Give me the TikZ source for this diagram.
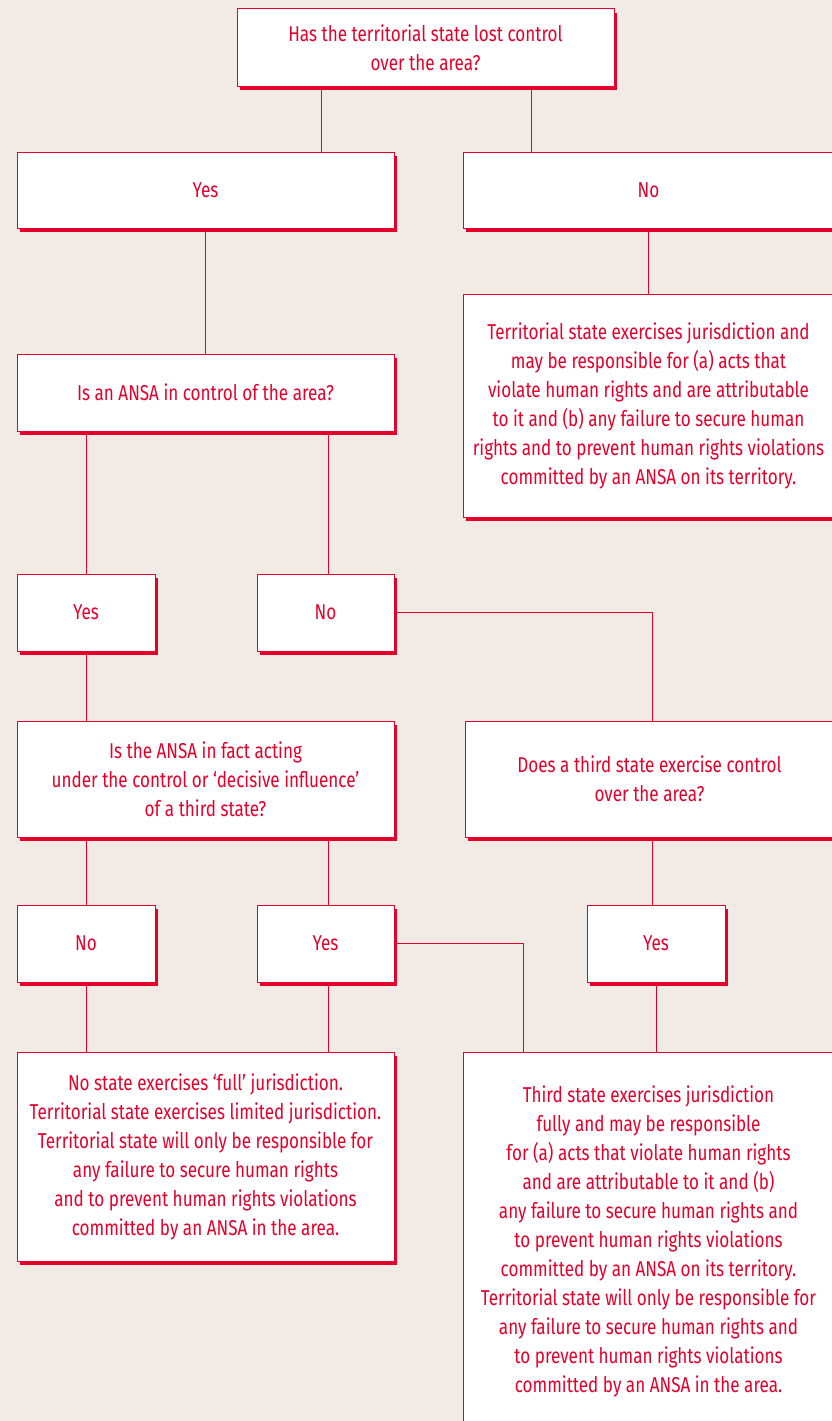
\documentclass[tikz,border=0pt]{standalone}
\usepackage{fontspec}
\setmainfont[FakeStretch=0.795]{Fira Sans}
\usetikzlibrary{shadows}
\definecolor{ared}{RGB}{228,0,43}
\definecolor{abg}{RGB}{242,234,228}

\begin{document}
\begin{tikzpicture}[x=1pt,y=-1pt,
  box/.style={draw=ared,fill=white,line width=1pt,text=ared,align=center,inner sep=0pt,
    font=\fontsize{21.5}{29}\selectfont,
    general shadow={fill=ared,shadow xshift=3pt,shadow yshift=-4pt}},
  link/.style={draw=ared,line width=1pt}]
  \fill[abg] (0,0) rectangle (832,1421);
  \clip (0,0) rectangle (832,1421);
  % questions and answers
  \node[box,minimum width=377,minimum height=77] (lost) at (425.5,47.5)
    {Has the territorial state lost control\\ over the area?};
  \node[box,minimum width=377,minimum height=76] (yesA) at (205.5,190) {Yes};
  \node[box,minimum width=371,minimum height=76] (noA) at (648.5,190) {No};
  \node[box,minimum width=371,minimum height=223] (terr) at (648.5,405.5)
    {Territorial state exercises jurisdiction and\\ may be responsible for (a) acts that\\
     violate human rights and are attributable\\ to it and (b) any failure to secure human\\
     rights and to prevent human rights violations\\ committed by an ANSA on its territory.};
  \node[box,minimum width=377,minimum height=77] (ansa) at (205.5,392.5)
    {Is an ANSA in control of the area?};
  \node[box,minimum width=138,minimum height=77] (yesB) at (86,612.5) {Yes};
  \node[box,minimum width=137,minimum height=77] (noB) at (325.5,612.5) {No};
  \node[box,minimum width=377,minimum height=116] (fact) at (205.5,779)
    {Is the ANSA in fact acting\\ under the control or ‘decisive influence’\\ of a third state?};
  \node[box,minimum width=369,minimum height=116] (third) at (649.5,779)
    {Does a third state exercise control\\ over the area?};
  \node[box,minimum width=138,minimum height=77] (noC) at (86,943.5) {No};
  \node[box,minimum width=137,minimum height=77] (yesC) at (325.5,943.5) {Yes};
  \node[box,minimum width=138,minimum height=77] (yesD) at (656,943.5) {Yes};
  \node[box,minimum width=377,minimum height=209] (nostate) at (205.5,1156.5)
    {No state exercises ‘full’ jurisdiction.\\ Territorial state exercises limited jurisdiction.\\
     Territorial state will only be responsible for\\ any failure to secure human rights\\
     and to prevent human rights violations\\ committed by an ANSA in the area.};
  \node[box,minimum width=371,minimum height=378] (full) at (648.5,1241)
    {Third state exercises jurisdiction\\ fully and may be responsible\\
     for (a) acts that violate human rights\\ and are attributable to it and (b)\\
     any failure to secure human rights and\\ to prevent human rights violations\\
     committed by an ANSA on its territory.\\ Territorial state will only be responsible for\\
     any failure to secure human rights and\\ to prevent human rights violations\\
     committed by an ANSA in the area.};
  % connectors
  \draw[link] ([xshift=-104.5pt]lost.south) -- ([xshift=-104.5pt]lost.south |- yesA.north);
  \draw[link] ([xshift=105.5pt]lost.south) -- ([xshift=105.5pt]lost.south |- noA.north);
  \draw[link] (yesA.south) -- (ansa.north);
  \draw[link] (noA.south) -- (terr.north);
  \draw[link] (yesB.north |- ansa.south) -- (yesB.north);
  \draw[link] ([xshift=2.5pt]noB.north |- ansa.south) -- ([xshift=2.5pt]noB.north);
  \draw[link] (noB.east) -| ([xshift=2.5pt]third.north);
  \draw[link] (yesB.south) -- (yesB.south |- fact.north);
  \draw[link] (noC.north |- fact.south) -- (noC.north);
  \draw[link] ([xshift=2.5pt]yesC.north |- fact.south) -- ([xshift=2.5pt]yesC.north);
  \draw[link] ([xshift=2.5pt]third.south) -- ([xshift=2.5pt]third.south |- yesD.north);
  \draw[link] (noC.south) -- (noC.south |- nostate.north);
  \draw[link] ([xshift=2.5pt]yesC.south) -- ([xshift=2.5pt]yesC.south |- nostate.north);
  \draw[link] (yesC.east) -| ([xshift=-125.5pt]full.north);
  \draw[link] (yesD.south) -- (yesD.south |- full.north);
\end{tikzpicture}
\end{document}
